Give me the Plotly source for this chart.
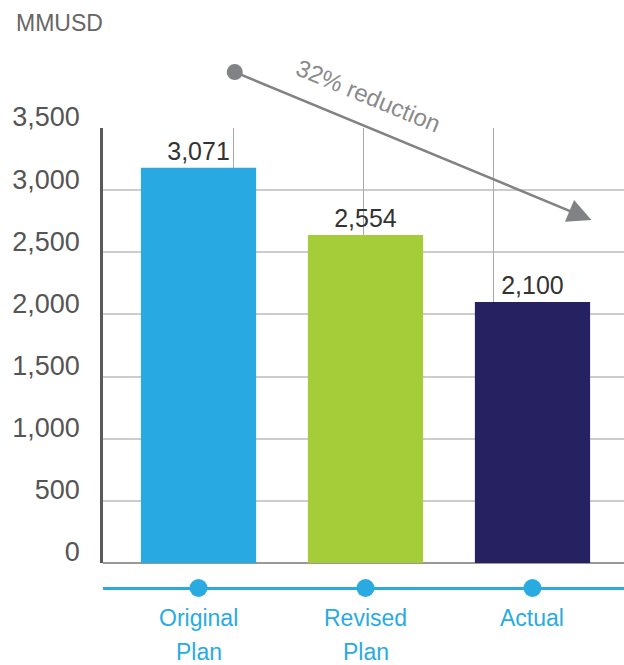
import plotly.graph_objects as go

categories = ["Original Plan", "Revised Plan", "Actual"]
label_line1 = ["Original", "Revised", "Actual"]
label_line2 = ["Plan", "Plan", ""]
bar_heights = [3180, 2640, 2100]
value_labels = ["3,071", "2,554", "2,100"]
bar_colors = ["#29A9E1", "#A5CD39", "#262262"]
y_ticks = [0, 500, 1000, 1500, 2000, 2500, 3000, 3500]
y_tick_text = ["0", "500", "1,000", "1,500", "2,000", "2,500", "3,000", "3,500"]
arrow_tail = (1.0, 3955)
arrow_head = (3.75, 2760)
arrow_text = "32% reduction"

FONT = "Liberation Sans"
BLUE = "#29ABE2"
GREY = "#808285"

fig = go.Figure()

fig.add_trace(go.Bar(
    x=categories, y=bar_heights, marker_color=bar_colors, marker_line_width=0,
    text=value_labels, textposition="outside", cliponaxis=False,
    textfont=dict(family=FONT, size=25, color="#333333"),
    width=0.69, xaxis="x", yaxis="y", hoverinfo="skip",
))

# timeline dots below the chart
fig.add_trace(go.Scatter(
    x=categories, y=[0, 0, 0], mode="markers",
    marker=dict(size=18, color=BLUE), xaxis="x", yaxis="y3",
    cliponaxis=False, hoverinfo="skip",
))

# invisible trace so the linear overlay axis (vertical gridlines) is drawn
fig.add_trace(go.Scatter(
    x=[arrow_head[0]], y=[arrow_head[1]], mode="markers",
    marker=dict(size=1, opacity=0), xaxis="x2", yaxis="y", hoverinfo="skip",
))

fig.add_annotation(
    x=arrow_head[0], y=arrow_head[1], xref="x2", yref="y",
    ax=arrow_tail[0], ay=arrow_tail[1], axref="x2", ayref="y",
    text="", showarrow=True, arrowhead=2, arrowsize=1.9, arrowwidth=2.5,
    arrowside="end+start", startarrowhead=6, startarrowsize=1.6,
    arrowcolor=GREY,
)
fig.add_annotation(
    x=(368 - 103) / 521, y=(598 - 95) / 470, xref="paper", yref="paper",
    xanchor="center", yanchor="middle",
    text=arrow_text, showarrow=False, textangle=22.5,
    font=dict(family=FONT, size=24, color="#8A8A8A"),
)
fig.add_annotation(
    x=-89 / 521, y=(598 - 23) / 470, xref="paper", yref="paper",
    xanchor="left", yanchor="middle", text="MMUSD", showarrow=False,
    font=dict(family=FONT, size=23, color="#666666"),
)
for cat, l1, l2 in zip(categories, label_line1, label_line2):
    fig.add_annotation(
        x=cat, y=(598 - 618) / 470, xref="x", yref="paper", text=l1,
        showarrow=False, yanchor="middle",
        font=dict(family=FONT, size=23, color=BLUE),
    )
    if l2:
        fig.add_annotation(
            x=cat, y=(598 - 652) / 470, xref="x", yref="paper", text=l2,
            showarrow=False, yanchor="middle",
            font=dict(family=FONT, size=23, color=BLUE),
        )

fig.update_layout(
    width=624, height=665,
    margin=dict(l=103, r=0, t=128, b=67),
    paper_bgcolor="white", plot_bgcolor="white",
    showlegend=False,
    xaxis=dict(
        domain=[0, 1], anchor="y3", range=[-0.572, 2.548],
        showticklabels=False,
        showgrid=False, showline=False, zeroline=False, ticks="",
    ),
    xaxis2=dict(
        domain=[0, 1], overlaying="x", anchor="y", range=[0, 4], dtick=1,
        showgrid=True, gridcolor="#A7A9AC", gridwidth=1,
        showticklabels=False, zeroline=False, showline=False,
    ),
    yaxis=dict(
        domain=[35 / 470, 1], range=[0, 3500],
        tickmode="array", tickvals=y_ticks, ticktext=y_tick_text,
        tickfont=dict(family=FONT, size=27, color="#555555"),
        showgrid=True, gridcolor="#CCCCCC", gridwidth=1.5,
        zeroline=True, zerolinecolor="#999999", zerolinewidth=1.5,
        showline=True, linecolor="#58595B", linewidth=2.5,
        ticklabelshift=-11, ticklabelstandoff=15,
    ),
    yaxis3=dict(
        domain=[0, 35 / 470], range=[-1, 2.5],
        showgrid=False, showticklabels=False, showline=False,
        zeroline=True, zerolinecolor=BLUE, zerolinewidth=2.5,
    ),
)

fig.write_html("out.html", config={"displayModeBar": False},
               post_script="document.body.style.margin='0';")
